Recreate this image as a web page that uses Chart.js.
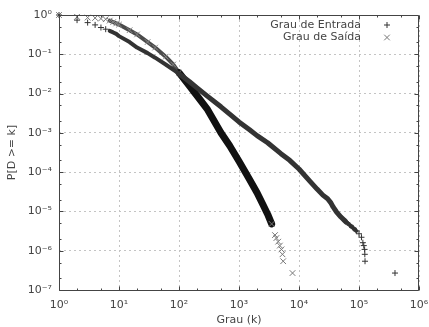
<!DOCTYPE html>
<html><head><meta charset="utf-8">
<script src="https://cdn.jsdelivr.net/npm/chart.js@4"></script>
<style>html,body{margin:0;padding:0;background:#fff;}#wrap{width:429px;height:327px;}</style>
</head><body><div id="wrap"><canvas id="c" width="429" height="327"></canvas></div>
<script>
const seriesLabels = ['Grau de Entrada', 'Grau de Saída'];
const entradaK = [1, 2, 3, 4, 5, 6, 7, 8, 9, 10, 15, 20, 30, 40, 60, 100, 150, 200, 300, 500, 700, 1000, 1500, 2000, 3000, 5000, 7000, 10000, 15000, 20000, 25000, 30000, 34000, 37000, 42000, 50000, 60000, 70000, 80000, 90000, 100000, 110000, 116000, 120000, 124000, 125000, 126000, 398000];
const entradaP = [1, 0.74, 0.64, 0.56, 0.48, 0.435, 0.395, 0.36, 0.33, 0.29, 0.205, 0.148, 0.107, 0.082, 0.055, 0.032, 0.020, 0.014, 0.0085, 0.0046, 0.0030, 0.0019, 0.0012, 8.5e-4, 5.6e-4, 2.95e-4, 2.0e-4, 1.2e-4, 6.0e-5, 3.7e-5, 2.6e-5, 2.1e-5, 1.65e-5, 1.3e-5, 9.8e-6, 7.2e-6, 5.5e-6, 4.5e-6, 3.8e-6, 3.2e-6, 2.7e-6, 2.2e-6, 1.6e-6, 1.35e-6, 1.08e-6, 8.1e-7, 5.4e-7, 2.7e-7];
const saidaK = [1, 2, 3, 4, 5, 6, 7, 8, 9, 10, 15, 20, 30, 40, 60, 80, 100, 150, 200, 300, 500, 700, 1000, 1500, 2000, 2500, 3000, 3500, 3980, 4200, 4500, 4800, 5100, 5300, 5450, 7800];
const saidaP = [1, 0.90, 0.86, 0.84, 0.81, 0.78, 0.72, 0.66, 0.61, 0.57, 0.41, 0.32, 0.205, 0.148, 0.087, 0.055, 0.034, 0.0154, 0.0088, 0.0039, 0.00101, 4.7e-4, 1.9e-4, 6.5e-5, 3.0e-5, 1.5e-5, 8.5e-6, 4.8e-6, 2.5e-6, 2.1e-6, 1.7e-6, 1.35e-6, 1.08e-6, 8.1e-7, 5.4e-7, 2.7e-7];
const xTickValues = [1, 10, 100, 1e3, 1e4, 1e5, 1e6];
const xTickLabels = ['10⁰', '10¹', '10²', '10³', '10⁴', '10⁵', '10⁶'];
const yTickValues = [1e-7, 1e-6, 1e-5, 1e-4, 1e-3, 1e-2, 1e-1, 1];
const yTickLabels = ['10⁻⁷', '10⁻⁶', '10⁻⁵', '10⁻⁴', '10⁻³', '10⁻²', '10⁻¹', '10⁰'];
const xTitle = 'Grau (k)';
const yTitle = 'P[D >= k]';

const FONT = '"DejaVu Sans", sans-serif';
const TXT = '#444';
const clear = 'rgba(0,0,0,0)';

const entradaData = entradaK.map((k, i) => ({x: k, y: entradaP[i]}));
const saidaData = saidaK.map((k, i) => ({x: k, y: saidaP[i]}));

const framePlugin = {
  id: 'frame',
  afterDatasetsDraw(chart) {
    const {ctx, chartArea: a, scales: {x, y}} = chart;
    const L = Math.round(a.left) + 0.5, R = Math.round(a.right) - 0.5;
    const T = Math.round(a.top) + 0.5, B = Math.round(a.bottom) + 0.5;
    ctx.save();
    ctx.strokeStyle = '#444'; ctx.lineWidth = 1;
    ctx.beginPath();
    ctx.moveTo(L, T); ctx.lineTo(R, T); ctx.lineTo(R, B); ctx.lineTo(L, B); ctx.closePath();
    const tick = (px, len, horiz) => {
      if (horiz) {
        ctx.moveTo(px, B); ctx.lineTo(px, B - len);
        ctx.moveTo(px, T); ctx.lineTo(px, T + len);
      } else {
        ctx.moveTo(L, px); ctx.lineTo(L + len, px);
        ctx.moveTo(R, px); ctx.lineTo(R - len, px);
      }
    };
    xTickValues.forEach(v => {
      tick(Math.round(x.getPixelForValue(v)) + 0.5, 4, true);
      if (v < 1e6) [2, 5].forEach(m => tick(Math.round(x.getPixelForValue(v * m)) + 0.5, 2, true));
    });
    yTickValues.forEach(v => {
      tick(Math.round(y.getPixelForValue(v)) + 0.5, 4, false);
      if (v < 1) [2, 5].forEach(m => tick(Math.round(y.getPixelForValue(v * m)) + 0.5, 2, false));
    });
    ctx.stroke();
    ctx.restore();
  },
  afterDraw(chart) {
    const {ctx, chartArea: a} = chart;
    ctx.save();
    ctx.font = '11px ' + FONT;
    ctx.fillStyle = TXT;
    ctx.textAlign = 'right';
    ctx.textBaseline = 'middle';
    const tx = a.right - 58;
    const rows = [a.top + 10, a.top + 22.5];
    ctx.fillText(seriesLabels[0], tx, rows[0]);
    ctx.fillText(seriesLabels[1], tx, rows[1]);
    const mx = a.right - 32;
    ctx.lineWidth = 1;
    ctx.strokeStyle = '#333';
    ctx.beginPath();
    ctx.moveTo(mx - 3, rows[0]); ctx.lineTo(mx + 3, rows[0]);
    ctx.moveTo(mx, rows[0] - 3); ctx.lineTo(mx, rows[0] + 3);
    ctx.stroke();
    ctx.strokeStyle = '#777';
    ctx.beginPath();
    ctx.moveTo(mx - 2.8, rows[1] - 2.8); ctx.lineTo(mx + 2.8, rows[1] + 2.8);
    ctx.moveTo(mx - 2.8, rows[1] + 2.8); ctx.lineTo(mx + 2.8, rows[1] - 2.8);
    ctx.stroke();
    ctx.restore();
  }
};

new Chart(document.getElementById('c'), {
  type: 'scatter',
  data: {
    datasets: [
      {
        label: seriesLabels[0],
        data: entradaData,
        showLine: true,
        clip: false,
        borderColor: '#333',
        borderWidth: 5,
        borderCapStyle: 'round',
        borderJoinStyle: 'round',
        segment: {
          borderColor: c => (c.p0.parsed.x >= 7 && c.p1.parsed.x <= 90000) ? '#333' : clear,
          borderWidth: c => c.p1.parsed.x <= 100 ? 4 : (c.p1.parsed.x > 60000 ? 4 : 5)
        },
        pointStyle: 'cross',
        pointRadius: c => { const k = c.raw ? c.raw.x : 0; return (k < 7 || k >= 60000) ? 3 : 0; },
        pointBorderColor: '#333',
        pointBorderWidth: 1,
        pointBackgroundColor: clear
      },
      {
        label: seriesLabels[1],
        data: saidaData,
        showLine: true,
        clip: false,
        borderColor: '#111',
        borderWidth: 7,
        borderCapStyle: 'round',
        borderJoinStyle: 'round',
        segment: {
          borderColor: c => {
            if (c.p0.parsed.x < 7 || c.p1.parsed.x > 3500) return clear;
            return c.p1.parsed.x <= 100 ? '#4a4a4a' : '#111';
          },
          borderWidth: c => c.p1.parsed.x <= 100 ? 4 : 7
        },
        pointStyle: 'crossRot',
        pointRadius: c => { const k = c.raw ? c.raw.x : 0; return (k <= 100 || k > 3000) ? 4 : 0; },
        pointBorderColor: c => { const k = c.raw ? c.raw.x : 0; return (k > 7 && k <= 100) ? '#888' : '#777'; },
        pointBorderWidth: 1,
        pointBackgroundColor: clear
      }
    ]
  },
  options: {
    responsive: false,
    animation: false,
    events: [],
    devicePixelRatio: 1,
    layout: {padding: {top: 15, right: 10, left: 0, bottom: 0}},
    plugins: {legend: {display: false}, tooltip: {enabled: false}},
    scales: {
      x: {
        type: 'logarithmic',
        min: 1, max: 1e6,
        afterBuildTicks: s => { s.ticks = xTickValues.map(v => ({value: v})); },
        afterFit: s => { s.height = 37; s.paddingLeft = 0; s.paddingRight = 0; },
        ticks: {
          callback: (v, i) => xTickLabels[i],
          font: {family: FONT, size: 11},
          color: TXT,
          padding: 9,
          maxRotation: 0,
          autoSkip: false
        },
        grid: {color: '#c4c4c4', lineWidth: 1, drawTicks: false},
        border: {display: false, dash: [2, 3]},
        title: {display: true, text: xTitle, font: {family: FONT, size: 11}, color: TXT, padding: {top: 0, bottom: 0}}
      },
      y: {
        type: 'logarithmic',
        min: 1e-7, max: 1,
        afterBuildTicks: s => { s.ticks = yTickValues.map(v => ({value: v})); },
        afterFit: s => { s.width = 59; s.paddingTop = 0; s.paddingBottom = 0; },
        ticks: {
          callback: (v, i) => yTickLabels[i],
          font: {family: FONT, size: 11},
          color: TXT,
          padding: 7,
          autoSkip: false
        },
        grid: {color: '#c4c4c4', lineWidth: 1, drawTicks: false},
        border: {display: false, dash: [2, 3]},
        title: {display: true, text: yTitle, font: {family: FONT, size: 11}, color: TXT, padding: {top: 6, bottom: 0}}
      }
    }
  },
  plugins: [framePlugin]
});
</script>
</body></html>
